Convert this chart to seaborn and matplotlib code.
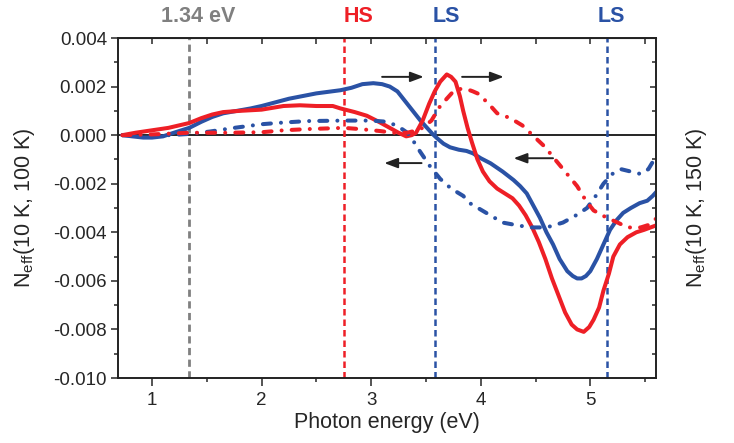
import matplotlib
matplotlib.use("Agg")
import matplotlib.pyplot as plt
import matplotlib.transforms as mtransforms
from matplotlib.ticker import MultipleLocator, FormatStrFormatter
import seaborn as sns
import pandas as pd

sns.set_style("ticks")
plt.rcParams["font.family"] = ["Liberation Sans", "DejaVu Sans"]
plt.rcParams["mathtext.fontset"] = "custom"
plt.rcParams["mathtext.rm"] = "Liberation Sans"
plt.rcParams["mathtext.it"] = "Liberation Sans"
plt.rcParams["axes.unicode_minus"] = False

# ---- data ----
blue_solid_E = [0.73, 0.82, 0.92, 1.0, 1.1, 1.2, 1.34, 1.45, 1.55, 1.65, 1.75, 1.9, 2.0, 2.25, 2.5,
                2.72, 2.82, 2.92, 3.02, 3.1, 3.17, 3.24, 3.31, 3.38, 3.45, 3.51, 3.56, 3.6, 3.66,
                3.72, 3.8, 3.87, 3.93, 4.0, 4.09, 4.2, 4.3, 4.36, 4.42, 4.48, 4.54, 4.6, 4.66,
                4.72, 4.79, 4.84, 4.88, 4.92, 4.96, 5.0, 5.06, 5.12, 5.18, 5.24, 5.3, 5.37, 5.45,
                5.52, 5.57, 5.61]
blue_solid_N = [0.0, -0.00005, -0.0001, -0.0001, -0.00005, 0.0001, 0.0003, 0.00055, 0.00075, 0.0009,
                0.00098, 0.0011, 0.0012, 0.0015, 0.00172, 0.00185, 0.00195, 0.0021, 0.00214,
                0.0021, 0.002, 0.0018, 0.0014, 0.001, 0.0006, 0.0003, 0.00005, -0.00012, -0.00035,
                -0.0005, -0.0006, -0.00065, -0.00075, -0.00095, -0.00116, -0.0015, -0.00185,
                -0.0021, -0.0024, -0.0029, -0.0034, -0.004, -0.0045, -0.0051, -0.0056, -0.0058,
                -0.0059, -0.0059, -0.0058, -0.0056, -0.0051, -0.0045, -0.0039, -0.0035, -0.0032,
                -0.003, -0.0028, -0.0027, -0.0025, -0.0023]

red_solid_E = [0.73, 0.85, 1.0, 1.15, 1.34, 1.45, 1.55, 1.65, 1.8, 2.0, 2.2, 2.35, 2.5, 2.65, 2.72,
               2.85, 2.96, 3.07, 3.17, 3.25, 3.32, 3.37, 3.41, 3.47, 3.53, 3.58, 3.63, 3.69, 3.73,
               3.77, 3.81, 3.84, 3.88, 3.92, 3.97, 4.02, 4.08, 4.15, 4.22, 4.29, 4.35, 4.41, 4.47,
               4.53, 4.59, 4.65, 4.71, 4.77, 4.83, 4.88, 4.94, 4.99, 5.03, 5.08, 5.12, 5.17, 5.21,
               5.27, 5.34, 5.42, 5.49, 5.55, 5.61]
red_solid_N = [0.0, 0.0001, 0.0002, 0.0003, 0.0005, 0.0007, 0.00085, 0.00095, 0.001, 0.00105,
               0.0012, 0.00123, 0.0012, 0.0012, 0.0011, 0.00095, 0.0008, 0.00055, 0.0003, 0.0001,
               -0.00005, 0.0, 0.0001, 0.0006, 0.0013, 0.0018, 0.0022, 0.0025, 0.0024, 0.0022,
               0.0016, 0.001, 0.0003, -0.0003, -0.001, -0.0015, -0.0019, -0.0022, -0.0024,
               -0.0026, -0.0029, -0.0033, -0.0038, -0.0044, -0.0051, -0.0059, -0.0066, -0.0073,
               -0.0078, -0.008, -0.0081, -0.0079, -0.0076, -0.0071, -0.0064, -0.0057, -0.005,
               -0.0045, -0.0042, -0.004, -0.0039, -0.0038, -0.0037]

blue_dd_E = [0.73, 1.0, 1.16, 1.34, 1.53, 1.75, 2.0, 2.2, 2.42, 2.75, 3.0, 3.15, 3.25, 3.33, 3.38,
             3.42, 3.48, 3.54, 3.63, 3.73, 3.84, 3.9, 4.05, 4.2, 4.32, 4.45, 4.6, 4.75, 4.87,
             4.97, 5.05, 5.12, 5.2, 5.28, 5.37, 5.46, 5.53, 5.57, 5.61]
blue_dd_N = [0.0, -0.00002, 0.0, 0.00005, 0.00015, 0.0003, 0.00045, 0.00052, 0.00058, 0.0006,
             0.0006, 0.00055, 0.00035, 0.0001, -0.0002, -0.0005, -0.0009, -0.0013, -0.0018,
             -0.0022, -0.0025, -0.0028, -0.0032, -0.0036, -0.0037, -0.0038, -0.0038, -0.0036,
             -0.0033, -0.003, -0.0025, -0.002, -0.0016, -0.0014, -0.0015, -0.0016, -0.0014,
             -0.0011, -0.0008]

red_dd_E = [0.73, 1.0, 1.34, 1.7, 2.0, 2.2, 2.42, 2.75, 2.9, 3.08, 3.2, 3.33, 3.4, 3.47, 3.55,
            3.63, 3.69, 3.75, 3.81, 3.87, 3.93, 3.98, 4.07, 4.15, 4.27, 4.38, 4.45, 4.52, 4.59,
            4.66, 4.77, 4.88, 4.96, 5.03, 5.15, 5.25, 5.34, 5.46, 5.53, 5.61]
red_dd_N = [0.0, 0.00003, 0.0001, 0.0001, 0.00012, 0.0002, 0.00025, 0.0003, 0.00025, 0.00017,
            0.0001, 0.0001, 0.00018, 0.0003, 0.0006, 0.0012, 0.0015, 0.0018, 0.0019, 0.0019,
            0.0018, 0.0017, 0.0013, 0.0009, 0.0007, 0.0004, 0.0001, -0.0002, -0.0005, -0.0009,
            -0.0015, -0.0021, -0.0027, -0.0031, -0.0034, -0.0036, -0.0038, -0.0038, -0.0037,
            -0.0034]

vline_E = [1.34, 2.75, 3.58, 5.15]
vline_labels = ["1.34 eV", "HS", "LS", "LS"]
vline_label_E = [1.425, 2.88, 3.69, 5.196]

# arrows: (start E, end E, N)
arrows = [(3.10, 3.48, 0.0024), (3.83, 4.21, 0.0024), (3.46, 3.12, -0.00115), (4.66, 4.30, -0.00095)]

BLUE = "#2a52a5"
RED = "#ee1f26"
GRAY = "#808080"
DASHDOT = (0, (2.0, 2.5, 0.01, 2.5))

fig = plt.figure(figsize=(7.34, 4.43), dpi=100)
ax = fig.add_axes([0.1608, 0.1467, 0.7330, 0.7675])

series = [
    (blue_solid_E, blue_solid_N, BLUE, "-"),
    (red_solid_E, red_solid_N, RED, "-"),
    (blue_dd_E, blue_dd_N, BLUE, DASHDOT),
    (red_dd_E, red_dd_N, RED, DASHDOT),
]

ax.axhline(0, color="black", lw=1.2, zorder=1)

for E, N, c, ls in series:
    df = pd.DataFrame({"E": E, "N": N})
    sns.lineplot(data=df, x="E", y="N", ax=ax, color=c, linestyle=ls, lw=2.9,
                 estimator=None, sort=False, zorder=3,
                 dash_capstyle="round", solid_capstyle="round", solid_joinstyle="round")

vcolors = [GRAY, RED, BLUE, BLUE]
for E, c in zip(vline_E, vcolors):
    ax.axvline(E, color=c, lw=1.8 if c != GRAY else 2.0, linestyle=(0, (2.6, 1.6)), zorder=2)

trans = mtransforms.blended_transform_factory(ax.transData, ax.transAxes)
for E, t, c in zip(vline_label_E, vline_labels, vcolors):
    ax.text(E, 1.064, t, transform=trans, color=c, fontsize=15.5, fontweight="bold",
            ha="center", va="center")

for x0, x1, y in arrows:
    ax.annotate("", xy=(x1, y), xytext=(x0, y),
                arrowprops=dict(arrowstyle="-|>,head_length=0.8,head_width=0.3",
                                color="#222222", lw=1.4, shrinkA=0, shrinkB=0))

ax.set_xlim(0.69, 5.6)
ax.set_ylim(-0.010, 0.004)
ax.xaxis.set_major_locator(MultipleLocator(1))
ax.xaxis.set_minor_locator(MultipleLocator(0.5))
ax.yaxis.set_major_locator(MultipleLocator(0.002))
ax.yaxis.set_minor_locator(MultipleLocator(0.001))
ax.yaxis.set_major_formatter(FormatStrFormatter("%.3f"))

for s in ax.spines.values():
    s.set_linewidth(1.2)
    s.set_color("#222222")

ax.tick_params(axis="x", which="major", direction="out", length=6, width=1.1, labelsize=13.5, pad=4)
ax.tick_params(axis="x", which="minor", direction="out", length=3, width=1.1)
ax.tick_params(axis="y", which="major", direction="out", length=5, width=1.1, labelsize=13.5, pad=3)
ax.tick_params(axis="y", which="minor", direction="out", length=3, width=1.1)

ax.set_xlabel("Photon energy (eV)", fontsize=15.5, labelpad=2)
ax.set_ylabel(r"N$_{\rm eff}$(10 K, 100 K)", fontsize=15.5)
ax.yaxis.set_label_coords(-0.15, 0.5)

top = ax.secondary_xaxis("top")
top.xaxis.set_major_locator(MultipleLocator(1))
top.xaxis.set_minor_locator(MultipleLocator(0.5))
top.tick_params(which="both", direction="in", length=4.5, width=1.1, labeltop=False)

right = ax.twinx()
right.set_ylim(-0.010, 0.004)
right.yaxis.set_major_locator(MultipleLocator(0.002))
right.yaxis.set_minor_locator(MultipleLocator(0.001))
right.tick_params(which="major", direction="in", length=4.5, width=1.1, labelright=False)
right.tick_params(which="minor", direction="in", length=3, width=1.1)
right.set_ylabel(r"N$_{\rm eff}$(10 K, 150 K)", fontsize=15.5)
right.yaxis.set_label_coords(1.052, 0.5)
for s in right.spines.values():
    s.set_linewidth(1.2)
    s.set_color("#222222")

fig.savefig("out.png", dpi=100)
